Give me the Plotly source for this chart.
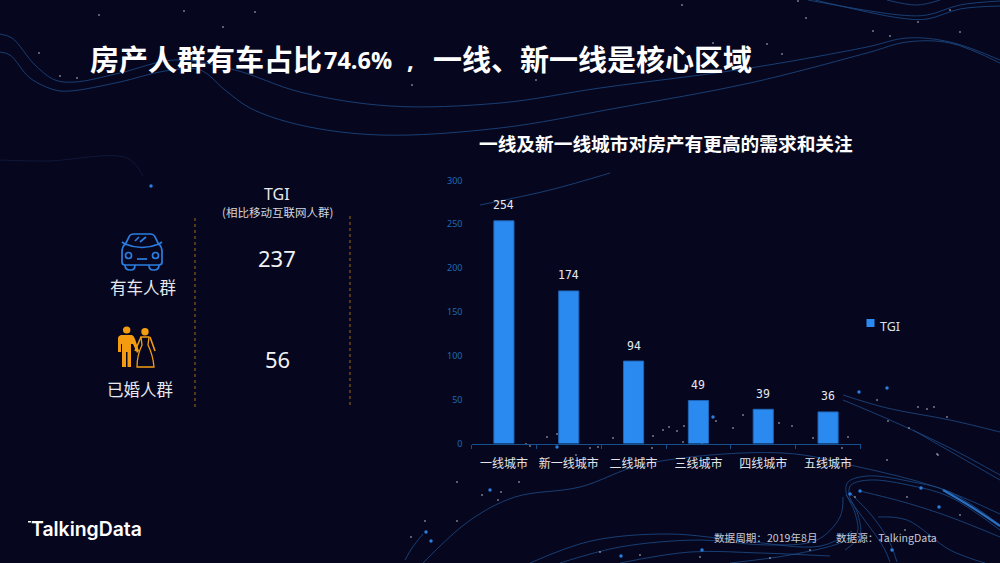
"""TalkingData 房产人群 slide: TGI bar chart on the dark swirl background."""
import plotly.graph_objects as go

CATEGORIES = ['一线城市', '新一线城市', '二线城市', '三线城市', '四线城市', '五线城市']
TGI_VALUES = [254, 174, 94, 49, 39, 36]
Y_TICKS = [0, 50, 100, 150, 200, 250, 300]

GROUP_NAMES = ['有车人群', '已婚人群']
GROUP_TGI = [237, 56]

BG = '#06071e'
CJK = 'Noto Sans CJK SC'
BAR_BLUE = '#2b8af0'
BLUE_TEXT = '#1f69b5'

# background swirls, in slide pixels
SWIRLS = [
    ([0, 12, 35, 55, 75, 120, 175, 235, 300, 390, 500, 600, 750, 867, 907, 950, 1000],
     [34, 38, 65, 80, 82, 73, 60, 70, 92, 106, 103, 88, 68, 47, 38, 42, 60]),
    ([0, 10, 30, 55, 70, 120, 165, 200, 225, 250, 300, 380, 500, 617, 750, 867, 907, 950, 1000],
     [52, 55, 78, 90, 91, 82, 71, 70, 90, 108, 125, 135, 128, 108, 83, 53, 42, 43, 63]),
    ([808, 900, 927, 960, 1000], [0, 15, 15, 5, 1]),
    ([815, 900, 927, 960, 1000], [0, 18, 19, 9, 6]),
    ([887, 917, 940], [0, 5, 0]),
    ([423, 469, 515, 580, 645, 783, 859, 936, 1000], [563, 521, 497, 487, 464, 453, 467, 487, 514]),
    ([1000, 950, 913, 867, 848, 846, 855, 857, 840, 790, 730], [525, 492, 482, 476, 482, 492, 513, 533, 543, 555, 563]),
    ([1000, 950, 913, 870, 851, 849, 858, 860, 845], [530, 497, 486, 480, 485, 494, 515, 535, 550]),
    ([850, 873, 890, 897], [493, 517, 543, 562]),
    ([846, 866, 884, 890], [495, 522, 548, 562]),
    ([860, 907, 950, 1000], [491, 503, 517, 537]),
    ([878, 907, 950, 985], [517, 520, 550, 563]),
    ([530, 591, 668, 744, 821, 852], [563, 541, 534, 541, 546, 531]),
    ([560, 620, 700, 767, 817, 840, 843], [563, 547, 540, 545, 540, 517, 497]),
    ([620, 690, 760, 830], [563, 552, 553, 556]),
    ([913, 1000], [430, 480]),
    ([843, 887, 950, 1000], [395, 408, 420, 432]),
    ([843, 890, 950, 1000], [400, 420, 448, 475]),
    ([423, 412, 405], [534, 548, 560]),
    ([480, 550, 610], [205, 190, 173]),
]
BRIGHT_SWIRLS = [([943, 970, 1000], [490, 506, 526])]
FAINT_SWIRLS = [([0, 47, 127, 143], [160, 161, 158, 176])]

STARS_X = [99, 184, 255, 223, 412, 77, 60, 39, 682, 798, 806, 873, 890, 960, 918, 950, 782, 767, 536, 713,
           526, 530, 547, 557, 576, 590, 598, 613, 652, 653, 663, 669, 677, 684, 683, 702, 716,
           733, 779, 743, 792, 813, 842, 848, 887, 937, 909, 918, 934, 927, 947, 877, 888,
           457, 501, 498, 519, 482, 425, 457, 411, 907, 938, 855, 600, 640, 700, 770, 810, 880, 905, 960]
STARS_Y = [15, 11, 12, 27, 85, 78, 76, 53, 5, 1, 18, 31, 36, 32, 22, 10, 54, 44, 80, 43,
           444, 446, 437, 434, 455, 448, 447, 438, 448, 436, 430, 427, 431, 426, 442, 444, 421,
           428, 423, 415, 426, 438, 448, 437, 460, 454, 428, 407, 407, 409, 417, 400, 421,
           482, 492, 500, 482, 495, 521, 521, 537, 497, 455, 497, 552, 555, 557, 558, 550, 540, 530, 515]
BLUE_DOTS_X = [151, 557, 713, 859, 887, 490, 426, 431, 621, 702, 850, 860, 921, 939, 892]
BLUE_DOTS_Y = [186, 447, 417, 392, 388, 490, 532, 541, 556, 550, 494, 491, 488, 507, 550]

CAR_PATHS = [
    'M125,245 L129,237 Q130,234 134,234 L150,234 Q154,234 155,237 L159,245',
    'M125,244 Q122,247 122,252 L122,262 Q122,265 125,265 L159,265 Q162,265 162,262 '
    'L162,252 Q162,247 159,244 Q142,251 125,244 Z',
    'M122,242 L125,244', 'M159,244 L162,242',
    'M125,265 Q125,270 130,270 L131,270 Q135,270 135,265',
    'M149,265 Q149,270 153,270 L154,270 Q159,270 159,265',
    'M137,259 L147,259', 'M135,241 L139,237', 'M140,242 L146,237',
]
CAR_LAMPS_X = [128.5, 155.5]
GROOM_PATH = ('M118,338 Q118,336 121,335 L132,335 Q134,336 135,339 L139,351 L137,353 L133,344 L131,344 '
              'L131,367 L127.5,367 L127.5,352 L126,352 L126,367 L122,367 L122,344 L121,344 L121,352 '
              'L118,352 Z')
BRIDE_PATH = 'M141,337 L149,337 L148,345 Q153,355 154,367 L137,367 Q137,355 142,345 Z'
BRIDE_ARMS = 'M135,351 L141,337 M150,337 L155,351'

fig = go.Figure()

# full-slide axes in pixels go first so the bars draw on top of them
for xs, ys in FAINT_SWIRLS:
    fig.add_trace(go.Scatter(x=xs, y=ys, mode='lines', line=dict(color='#131a3f', width=0.8, shape='spline'),
                             hoverinfo='skip', showlegend=False))
for xs, ys in SWIRLS:
    fig.add_trace(go.Scatter(x=xs, y=ys, mode='lines', line=dict(color='#1d4b88', width=0.8, shape='spline'),
                             hoverinfo='skip', showlegend=False))
for xs, ys in BRIGHT_SWIRLS:
    fig.add_trace(go.Scatter(x=xs, y=ys, mode='lines', line=dict(color='#2a6fc0', width=2.2, shape='spline'),
                             hoverinfo='skip', showlegend=False))
fig.add_trace(go.Scatter(x=STARS_X, y=STARS_Y, mode='markers', marker=dict(color='#c9ccd6', size=1.6),
                         hoverinfo='skip', showlegend=False))
fig.add_trace(go.Scatter(x=BLUE_DOTS_X, y=BLUE_DOTS_Y, mode='markers', marker=dict(color='#2b7de0', size=3.5),
                         hoverinfo='skip', showlegend=False))

fig.add_trace(go.Bar(
    x=CATEGORIES, y=TGI_VALUES, name='TGI', xaxis='x2', yaxis='y2', width=0.31,
    marker=dict(color=BAR_BLUE, line=dict(color='#1f66b8', width=1)),
    showlegend=False,
))

# legend key, its label is an annotation below
fig.add_trace(go.Scatter(
    x=[870.5], y=[323], mode='markers', marker=dict(symbol='square', color=BAR_BLUE, size=8),
    hoverinfo='skip', showlegend=False,
))

shapes = [dict(type='path', path=p, xref='x', yref='y', line=dict(color='#2b7de0', width=1.7)) for p in CAR_PATHS]
shapes += [dict(type='circle', xref='x', yref='y', x0=cx - 3, x1=cx + 3, y0=252.5, y1=258.5,
                line=dict(color='#2b7de0', width=1.7)) for cx in CAR_LAMPS_X]
shapes += [
    dict(type='circle', xref='x', yref='y', x0=123, x1=130.4, y0=326.5, y1=333.5,
         fillcolor='#f39c12', line=dict(width=0)),
    dict(type='path', path=GROOM_PATH, xref='x', yref='y', fillcolor='#f39c12', line=dict(width=0)),
    dict(type='circle', xref='x', yref='y', x0=141.3, x1=148.7, y0=328, y1=335.4,
         fillcolor='#f39c12', line=dict(width=0)),
    dict(type='path', path=BRIDE_PATH, xref='x', yref='y', line=dict(color='#f39c12', width=1.3)),
    dict(type='path', path=BRIDE_ARMS, xref='x', yref='y', line=dict(color='#f39c12', width=1.6)),
    dict(type='line', xref='x', yref='y', x0=195, x1=195, y0=218, y1=410,
         line=dict(color='#a06a14', width=1, dash='dot')),
    dict(type='line', xref='x', yref='y', x0=350, x1=350, y0=216, y1=406,
         line=dict(color='#a06a14', width=1, dash='dot')),
    dict(type='rect', xref='x', yref='y', x0=28, x1=31, y0=521, y1=522.5, fillcolor='white', line=dict(width=0)),
]


def slide_text(text, x, y, size, color='white', family=CJK, anchor='center', weight=None):
    font = dict(family=family, size=size, color=color)
    if weight:
        font['weight'] = weight
    return dict(text=text, x=x, y=y, xref='x', yref='y', xanchor=anchor, yanchor='middle',
                showarrow=False, font=font)


annotations = [
    slide_text('房产人群有车占比', 87.5, 58, 29, anchor='left', weight=700),
    slide_text('74.6%', 322, 59.5, 23.5, family='Open Sans', anchor='left', weight=700),
    slide_text(',', 405, 59, 24, family='Open Sans', anchor='left', weight=700),
    slide_text('一线、新一线是核心区域', 431, 58, 29, anchor='left', weight=700),
    slide_text('一线及新一线城市对房产有更高的需求和关注', 665.5, 142, 18.7, weight=700),
    slide_text('TGI', 277, 194, 16, color='#e8e9ee', family='Noto Sans'),
    slide_text('(相比移动互联网人群)', 277, 212, 11.5, color='#d5d6de'),
    slide_text(str(GROUP_TGI[0]), 277, 257.5, 22, color='#f2f2f5', family='Noto Sans'),
    slide_text(str(GROUP_TGI[1]), 277, 358.5, 22, color='#f2f2f5', family='Noto Sans'),
    slide_text(GROUP_NAMES[0], 143, 287, 16.5, color='#e8e9ee'),
    slide_text(GROUP_NAMES[1], 140, 388.5, 16.5, color='#e8e9ee'),
    slide_text('TalkingData', 29, 529, 19.4, family='Inter', anchor='left', weight=600),
    slide_text('数据周期：2019年8月', 712, 537.5, 10.6, color='#c9cad3', anchor='left'),
    slide_text('数据源：TalkingData', 834, 537.5, 10.6, color='#c9cad3', anchor='left'),
    slide_text('TGI', 878, 326, 12.5, color='#dfe1e6', family='Noto Sans', anchor='left'),
]
# bar value labels float well above the bars
for cat, val in zip(CATEGORIES, TGI_VALUES):
    annotations.append(dict(
        text=str(val), x=cat, y=val, xref='x2', yref='y2', yanchor='middle', yshift=15.5, showarrow=False,
        font=dict(family='DejaVu Sans Mono', size=11.5, color='#e8e9ee'),
    ))

fig.update_layout(
    width=1000, height=563, margin=dict(l=0, r=0, t=0, b=0),
    paper_bgcolor=BG, plot_bgcolor='rgba(0,0,0,0)',
    showlegend=False,
    xaxis=dict(domain=[0, 1], range=[0, 1000], visible=False, fixedrange=True, automargin=False),
    yaxis=dict(domain=[0, 1], range=[563, 0], visible=False, fixedrange=True, automargin=False),
    xaxis2=dict(
        anchor='y2', domain=[0.4715, 0.8605], type='category', range=[-0.5, 5.5],
        showgrid=False, zeroline=False, showline=True, linecolor='#15508e', linewidth=1,
        ticks='outside', tickson='boundaries', ticklen=4, tickcolor='#15508e', tickangle=0, automargin=False,
        ticklabelstandoff=9,
        tickfont=dict(family=CJK, size=12, color='#e4e5ea'),
    ),
    yaxis2=dict(
        anchor='x2', domain=[(563 - 443.5) / 563, (563 - 180.5) / 563], range=[0, 300],
        tickmode='array', tickvals=Y_TICKS, showgrid=False, zeroline=False, showline=False,
        ticks='', ticklabelstandoff=8, automargin=False,
        tickfont=dict(family='Noto Sans', size=9, color=BLUE_TEXT),
    ),
    shapes=shapes, annotations=annotations,
)

fig.write_html('out.html', post_script="document.body.style.margin='0';",
               config={'displayModeBar': False})
